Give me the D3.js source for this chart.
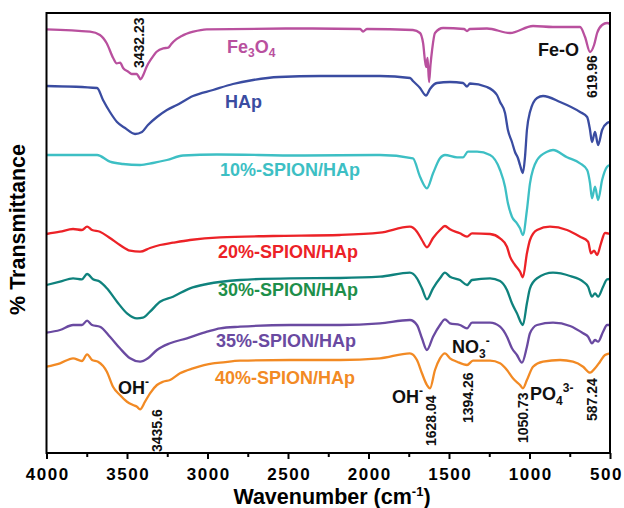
<!DOCTYPE html>
<html><head><meta charset="utf-8">
<script src="https://cdn.jsdelivr.net/npm/d3@7"></script>
<style>
body{margin:0;background:#fff;}
svg{display:block;font-family:"Liberation Sans",Arial,Helvetica,sans-serif;font-weight:bold;}
</style></head><body>
<svg id="chart" width="624" height="508"></svg>
<script>
// ---- data (wavenumber cm-1, stacked transmittance in arbitrary offset units) ----
const wavenumberTicks = [4000, 3500, 3000, 2500, 2000, 1500, 1000, 500];
const minorTicks = [3750, 3250, 2750, 2250, 1750, 1250, 750];
const seriesNames = ["Fe3O4", "HAp", "10%-SPION/HAp", "20%-SPION/HAp", "30%-SPION/HAp", "35%-SPION/HAp", "40%-SPION/HAp"];

const fe3o4 = [[4000,423.7],[3730,421.3],[3668,418],[3626,409.7],[3585,394.7],[3564,389.7],[3543,390.3],[3523,384.7],[3492,381.3],[3471,379],[3440,379],[3430,377],[3415,373.7],[3399,378],[3378,386.3],[3347,394.7],[3316,401.3],[3275,404.7],[3244,405.3],[3229,408],[3212,411.3],[3160,417],[3088,421.3],[3005,423.7],[2425,424.5],[2052,424],[2034,421.5],[2010,424],[1724,423],[1680,420],[1661,410],[1643,386],[1633,395],[1624,371],[1615,388],[1605,403],[1587,420],[1537,425],[1407,424],[1388,422],[1370,424],[1264,424.5],[1121,420],[978,427],[854,426],[686,426],[655,416],[624,401],[599,408],[580,420],[549,428],[518,430],[500,429]];

const hap = [[4000,367],[3686,365],[3649,353],[3606,341],[3562,331],[3512,325],[3450,319],[3407,321],[3370,328],[3314,336],[3252,343],[3190,348],[3090,357],[2966,363],[2842,369],[2717,373],[2556,376],[2301,377],[1929,377],[1742,375],[1724,372],[1680,365],[1649,358],[1643,357.5],[1618,364],[1575,370],[1494,371],[1413,370],[1388,366.5],[1370,369.5],[1264,366],[1202,358],[1183,351],[1152,340],[1134,323],[1109,311],[1090,301],[1072,295],[1059,288],[1041,280],[1028,296],[1016,323],[997,341],[953,355],[916,357],[810,351],[686,341],[642,336],[624,323],[612,311],[593,321],[574,308],[549,323],[518,330],[500,331]];

const spion10 = [[4000,298],[3686,298],[3606,291.3],[3525,289],[3419,288],[3339,290],[3252,293],[3152,297.5],[2941,298.5],[2425,297.5],[1929,298],[1724,294.7],[1680,276.3],[1637,264.7],[1599,279.7],[1556,294.7],[1525,298],[1450,295.7],[1413,295.7],[1382,301.3],[1326,301.3],[1245,298],[1183,283],[1152,266.3],[1134,249.7],[1109,236.3],[1078,229.7],[1059,224.7],[1041,218],[1016,243],[997,269.7],[953,293],[891,301.3],[854,303],[767,295.7],[686,289.7],[642,283],[624,269.7],[612,254.7],[593,266.3],[574,253],[549,273],[518,286.3],[500,288]];

const spion20 = [[4000,219],[3916,221.3],[3835,224],[3780,223],[3748,226.3],[3717,223],[3668,221.3],[3606,215],[3544,208],[3481,202.3],[3419,201.3],[3357,205],[3295,208],[3214,210.3],[3109,213],[2922,215.7],[2593,217],[2177,218],[1929,220.3],[1743,226.3],[1699,221.3],[1668,213],[1637,205.7],[1599,215],[1556,223],[1525,227],[1494,223.7],[1432,219.7],[1388,216.3],[1357,219.7],[1245,219],[1183,214.7],[1140,206.3],[1121,196.3],[1090,188],[1059,181.3],[1041,175.7],[1016,199.7],[997,213],[953,223],[873,226.3],[767,223],[686,216.3],[636,211.3],[618,199.7],[599,202.3],[580,198],[556,209.7],[531,220],[500,219]];

const spion30 = [[4000,168],[3916,171.3],[3835,174.7],[3780,173.7],[3748,179],[3711,173.7],[3668,171.3],[3625,164.7],[3562,151.3],[3500,139.7],[3438,134.7],[3401,135.3],[3357,141.3],[3295,151.3],[3214,156.3],[3109,164.7],[3003,169],[2798,173],[2487,174.7],[2177,175],[1929,176.3],[1743,180.3],[1699,174.7],[1668,164.7],[1637,153.7],[1599,164.7],[1556,174.7],[1525,180.3],[1494,176.3],[1432,173],[1388,168],[1357,173],[1245,174.7],[1183,172],[1140,163],[1109,149.7],[1078,139.7],[1041,128],[1016,149.7],[997,164.7],[953,174.7],[854,180.3],[748,177],[667,171.3],[636,166.3],[612,156.3],[593,159.7],[574,156.3],[543,166.3],[518,173.7],[500,174]];

const spion35 = [[4000,120.3],[3916,123],[3835,128],[3780,128],[3748,132.3],[3717,128],[3668,126.3],[3606,116.3],[3544,104.7],[3481,94.7],[3419,91.3],[3370,94.7],[3314,103],[3233,109.7],[3128,114.7],[3003,121.3],[2922,124.7],[2798,126.3],[2487,128],[2177,128],[1929,129.7],[1743,133],[1699,128],[1668,114.7],[1637,103],[1599,116.3],[1556,128],[1525,133.7],[1494,129.7],[1432,128],[1388,124.7],[1357,130.3],[1245,130.3],[1183,126.3],[1140,116.3],[1109,104.7],[1078,98],[1047,90.3],[1016,106.3],[997,119.7],[953,128],[854,130.3],[748,127],[667,119.7],[636,116.3],[612,109.7],[593,113],[574,111.3],[543,121.3],[518,128],[500,128]];

const spion40 = [[4000,86.3],[3916,89.7],[3835,94.7],[3780,92],[3748,98.7],[3717,93],[3680,91.3],[3625,81.3],[3587,66.3],[3544,58],[3500,51.3],[3463,48],[3438,46.3],[3419,43.7],[3388,51.3],[3357,59.7],[3314,68],[3276,71.3],[3233,73],[3171,79.7],[3090,84.7],[2966,89.7],[2922,90.3],[2798,92.3],[2487,93],[2177,93],[1929,94.7],[1743,99.7],[1699,93],[1668,79.7],[1637,68],[1618,64.7],[1587,83],[1556,94.7],[1525,99.7],[1494,94.7],[1450,91.3],[1388,88],[1351,92.3],[1245,92.3],[1183,89.7],[1140,83],[1103,74.7],[1059,68],[1041,64.7],[1016,73],[978,86.3],[916,91.3],[810,93],[730,91.3],[667,86.3],[624,80.3],[593,84.7],[562,91.3],[531,98],[500,99.7]];

const seriesData = [fe3o4, hap, spion10, spion20, spion30, spion35, spion40];
const peakWavenumbers = ["3432.23", "619.96", "3435.6", "1628.04", "1394.26", "1050.73", "587.24"];

// ---- styles ----
const lineColors = ["#B9509E", "#3A4CA1", "#3DBFC4", "#EC2227", "#0F827D", "#6A4AA1", "#F28A24"];
const labelColors = ["#B9509E", "#3A4CA1", "#3DBFC4", "#EC2227", "#1E8F4A", "#6A4AA1", "#F28A24"];

const svg = d3.select("#chart");
const L = 46.5, R = 610, T = 13, B = 453;
const x = d3.scaleLinear().domain([4000, 500]).range([L, R]);
const y = d3.scaleLinear().domain([0, 440]).range([B, T]);

const line = d3.line().x(d => x(d[0])).y(d => y(d[1])).curve(d3.curveMonotoneX);

// spectra
svg.append("g").selectAll("path").data(seriesData).join("path")
  .attr("d", line)
  .attr("fill", "none")
  .attr("stroke", (d, i) => lineColors[i])
  .attr("stroke-width", 2.3)
  .attr("stroke-linejoin", "round");

// frame
svg.append("rect").attr("x", L).attr("y", T).attr("width", R - L).attr("height", B - T)
  .attr("fill", "none").attr("stroke", "#000").attr("stroke-width", 2);

// x axis
const gx = svg.append("g").attr("transform", `translate(0,${B})`)
  .call(d3.axisBottom(x).tickValues(wavenumberTicks).tickFormat(d3.format("d")).tickSize(6).tickPadding(9));
gx.select(".domain").remove();
gx.selectAll(".tick line").attr("stroke", "#000").attr("stroke-width", 2);
gx.selectAll(".tick text").attr("fill", "#000").attr("font-size", 17).attr("font-weight", "bold")
  .attr("font-family", '"Liberation Sans",Arial,sans-serif').attr("letter-spacing", "1.5px")
  .attr("dx", d => d === 500 ? -4 : 0.75);
const gm = svg.append("g").attr("transform", `translate(0,${B})`)
  .call(d3.axisBottom(x).tickValues(minorTicks).tickSize(4).tickFormat(""));
gm.select(".domain").remove();
gm.selectAll(".tick line").attr("stroke", "#000").attr("stroke-width", 2);

// axis titles
const xt = svg.append("text").attr("x", 332).attr("y", 504).attr("text-anchor", "middle")
  .attr("font-size", 21.5).attr("fill", "#000");
xt.append("tspan").text("Wavenumber (cm");
xt.append("tspan").attr("font-size", 13).attr("dy", -8).text("-1");
xt.append("tspan").attr("dy", 8).text(")");

svg.append("text").attr("transform", "translate(25,229.5) rotate(-90)").attr("text-anchor", "middle")
  .attr("font-size", 21.5).attr("fill", "#000").text("% Transmittance");

// series labels
const labelPos = [[227, 53], [225, 108], [220, 176], [218, 257.5], [218, 296], [216, 347], [215, 384]];
seriesNames.forEach((name, i) => {
  const t = svg.append("text").attr("x", labelPos[i][0]).attr("y", labelPos[i][1])
    .attr("font-size", 18).attr("fill", labelColors[i]);
  if (name === "Fe3O4") {
    t.append("tspan").text("Fe");
    t.append("tspan").attr("font-size", 12).attr("dy", 4).text("3");
    t.append("tspan").attr("dy", -4).text("O");
    t.append("tspan").attr("font-size", 12).attr("dy", 4).text("4");
  } else {
    t.text(name);
  }
});

// vertical peak labels: centre-x offset from peak, bottom y
const peakPlace = [[1, 68], [1, 98], [20, 452], [3, 446], [2, 423], [2, 443], [-3.5, 421]];
peakWavenumbers.forEach((p, i) => {
  const cx = x(+p) + peakPlace[i][0];
  svg.append("text").attr("transform", `translate(${cx},${peakPlace[i][1]}) rotate(-90)`)
    .attr("dominant-baseline", "central").attr("font-size", 14).attr("fill", "#111").text(p);
});

// chemical group annotations
function chem(xp, yp, parts) {
  const t = svg.append("text").attr("x", xp).attr("y", yp).attr("font-size", 18).attr("fill", "#111");
  parts.forEach(([txt, kind, dy]) => {
    const s = t.append("tspan").text(txt);
    if (kind !== "n") s.attr("font-size", 12);
    if (dy) s.attr("dy", dy);
  });
}
chem(538, 56, [["Fe-O", "n"]]);
chem(118, 394, [["OH", "n"], ["-", "s", -8]]);
chem(392, 403, [["OH", "n"], ["-", "s", -8]]);
chem(452, 353, [["NO", "n"], ["3", "s", 5], ["-", "s", -13]]);
chem(530, 400, [["PO", "n"], ["4", "s", 5], ["3-", "s", -13]]);
</script>
</body></html>
